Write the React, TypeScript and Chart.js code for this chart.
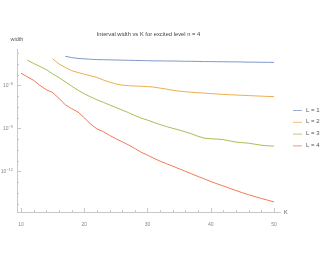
import React, { useEffect, useRef } from "react";
import { Chart, registerables } from "chart.js";

Chart.register(...registerables);

const TITLE = "Interval width vs K for excited level n = 4";
const K = [10, 11, 12, 13, 14, 15, 16, 17, 18, 19, 20, 21, 22, 23, 24, 25, 26, 27, 28, 29, 30,
  31, 32, 33, 34, 35, 36, 37, 38, 39, 40, 41, 42, 43, 44, 45, 46, 47, 48, 49, 50];
const X_TICKS = [10, 20, 30, 40, 50];
const Y_TICKS = [1e-6, 1e-9, 1e-12];
const SERIES_LABELS = ["L = 1", "L = 2", "L = 3", "L = 4"];
const COLORS = ["#6F8FC2", "#E8A63A", "#9AB944", "#F06A45"];

const widthL1 = [null, null, null, null, null, null, null,
  1.07e-4, 8.71e-5, 7.59e-5, 7.08e-5, 6.61e-5, 6.31e-5, 6.17e-5, 6.03e-5, 5.89e-5, 5.75e-5,
  5.62e-5, 5.50e-5, 5.37e-5, 5.25e-5, 5.13e-5, 5.13e-5, 5.01e-5, 5.01e-5, 4.90e-5, 4.79e-5,
  4.79e-5, 4.68e-5, 4.57e-5, 4.57e-5, 4.47e-5, 4.47e-5, 4.37e-5, 4.37e-5, 4.27e-5, 4.17e-5,
  4.17e-5, 4.07e-5, 4.07e-5, 3.98e-5];
const widthL2 = [null, null, null, null, null,
  7.24e-5, 3.16e-5, 1.78e-5, 1.07e-5, 7.94e-6, 6.03e-6, 4.68e-6, 3.63e-6, 2.40e-6, 1.70e-6,
  1.26e-6, 1.05e-6, 9.55e-7, 9.12e-7, 8.71e-7, 8.32e-7, 7.59e-7, 6.46e-7, 5.50e-7, 4.57e-7,
  3.98e-7, 3.63e-7, 3.31e-7, 3.09e-7, 2.88e-7, 2.69e-7, 2.51e-7, 2.34e-7, 2.24e-7, 2.14e-7,
  2.04e-7, 1.95e-7, 1.86e-7, 1.78e-7, 1.70e-7, 1.66e-7];
const widthL3 = [null,
  5.75e-5, 3.39e-5, 2.09e-5, 1.26e-5, 6.31e-6, 3.55e-6, 1.78e-6, 8.91e-7, 4.68e-7, 2.63e-7,
  1.58e-7, 1.0e-7, 6.61e-8, 4.37e-8, 2.88e-8, 1.91e-8, 1.26e-8, 7.94e-9, 5.25e-9, 3.80e-9,
  2.63e-9, 1.86e-9, 1.35e-9, 1.02e-9, 7.76e-10, 5.75e-10, 4.17e-10, 2.82e-10, 2.09e-10, 1.91e-10,
  1.82e-10, 1.66e-10, 1.35e-10, 1.12e-10, 1.02e-10, 9.33e-11, 7.94e-11, 6.76e-11, 6.17e-11, 5.89e-11];
const widthL4 = [
  7.08e-6, 3.98e-6, 2.24e-6, 1.0e-6, 5.01e-7, 3.16e-7, 1.26e-7, 4.47e-8, 2.40e-8, 1.41e-8,
  5.62e-9, 2.0e-9, 9.33e-10, 6.03e-10, 3.31e-10, 1.91e-10, 1.17e-10, 7.08e-11, 3.98e-11, 2.19e-11,
  1.38e-11, 8.32e-12, 5.25e-12, 3.47e-12, 2.34e-12, 1.55e-12, 1.02e-12, 6.76e-13, 4.47e-13, 3.02e-13,
  2.0e-13, 1.38e-13, 9.77e-14, 6.76e-14, 4.68e-14, 3.31e-14, 2.40e-14, 1.78e-14, 1.32e-14, 1.0e-14,
  7.59e-15];

const SERIES = [widthL1, widthL2, widthL3, widthL4];

const FONT = "'Liberation Sans', Arial, sans-serif";

const framePlugin = {
  id: "frame",
  afterDraw(chart: any) {
    const ctx = chart.ctx;
    const { left, right, top, bottom } = chart.chartArea;
    const xs = chart.scales.x;
    const ys = chart.scales.y;
    ctx.save();
    ctx.strokeStyle = "#c8c8c8";
    ctx.lineWidth = 1;
    ctx.beginPath();
    for (let v = 10; v <= 50; v += 2) {
      const px = Math.round(xs.getPixelForValue(v)) + 0.5;
      const len = v % 10 === 0 ? 4 : 2;
      ctx.moveTo(px, bottom);
      ctx.lineTo(px, bottom - len);
    }
    for (let e = -15; e <= -3; e += 0.75) {
      const v = Math.pow(10, e);
      if (v < ys.min || v > ys.max) continue;
      const py = Math.round(ys.getPixelForValue(v)) + 0.5;
      const major = Math.abs(e % 3) < 1e-9;
      const len = major ? 4 : 2;
      ctx.moveTo(left, py);
      ctx.lineTo(left + len, py);
    }
    ctx.stroke();

    // y tick labels: 10 with superscript exponent
    ctx.fillStyle = "#888";
    ctx.textBaseline = "middle";
    Y_TICKS.forEach((v) => {
      const py = ys.getPixelForValue(v);
      const exp = String(Math.round(Math.log10(v))).replace("-", "\u2212");
      ctx.font = `4px ${FONT}`;
      const ew = ctx.measureText(exp).width;
      const rx = left - 4;
      ctx.textAlign = "right";
      ctx.fillText(exp, rx, py - 2);
      ctx.font = `5px ${FONT}`;
      ctx.fillText("10", rx - ew, py + 0.5);
    });

    ctx.fillStyle = "#555";
    ctx.font = `5.5px ${FONT}`;
    ctx.textBaseline = "middle";
    ctx.textAlign = "center";
    ctx.fillText("width", left, top - 10);
    ctx.textAlign = "left";
    ctx.fillText("K", right + 4, bottom);

    const lx = 293;
    const ly0 = 110;
    const step = 11.8;
    ctx.font = `6px ${FONT}`;
    chart.data.datasets.forEach((ds: any, i: number) => {
      const y = ly0 + i * step;
      ctx.strokeStyle = ds.borderColor;
      ctx.lineWidth = 1;
      ctx.globalAlpha = 0.7;
      ctx.beginPath();
      ctx.moveTo(lx, y + 0.5);
      ctx.lineTo(lx + 9, y + 0.5);
      ctx.stroke();
      ctx.globalAlpha = 1;
      ctx.fillStyle = "#555";
      ctx.fillText(ds.label, lx + 13, y);
    });
    ctx.restore();
  },
};

export default function App() {
  const ref = useRef<HTMLCanvasElement>(null);
  useEffect(() => {
    if (!ref.current) return;
    const chart = new Chart(ref.current, {
      type: "line",
      data: {
        datasets: SERIES.map((arr, i) => ({
          label: SERIES_LABELS[i],
          data: K.map((k, j) => ({ x: k, y: arr[j] })).filter((p) => p.y !== null) as any,
          borderColor: COLORS[i],
          backgroundColor: COLORS[i],
          borderWidth: 0.9,
          pointRadius: 0,
          tension: 0,
          fill: false,
        })),
      },
      options: {
        animation: false,
        responsive: false,
        maintainAspectRatio: false,
        devicePixelRatio: 1,
        layout: { padding: { left: 0, right: 47, top: 0, bottom: 0 } },
        plugins: {
          legend: { display: false },
          tooltip: { enabled: false },
          title: {
            display: true,
            text: TITLE,
            fullSize: false,
            color: "#444",
            font: { family: FONT, size: 5.8, weight: "normal" },
            padding: { top: 31, bottom: 12 },
          },
        },
        scales: {
          x: {
            type: "linear",
            min: 9.37,
            max: 50.95,
            grid: { display: false },
            border: { display: true, color: "#c8c8c8", width: 1 },
            ticks: { color: "#888", font: { family: FONT, size: 5 }, padding: 2, maxRotation: 0 },
            afterBuildTicks: (s: any) => { s.ticks = X_TICKS.map((v) => ({ value: v })); },
            afterFit: (s: any) => { s.height = 41; },
          },
          y: {
            type: "logarithmic",
            min: 1.5e-15,
            max: 2.95e-4,
            grid: { display: false },
            border: { display: true, color: "#c8c8c8", width: 1 },
            ticks: { display: false },
            afterBuildTicks: (s: any) => { s.ticks = Y_TICKS.map((v) => ({ value: v })); },
            afterFit: (s: any) => { s.width = 17; },
          },
        },
      } as any,
      plugins: [framePlugin],
    });
    return () => chart.destroy();
  }, []);
  return (
    <div style={{ position: "fixed", left: 0, top: 0, width: 327, height: 253, background: "#fff" }}>
      <canvas ref={ref} width={327} height={253} style={{ width: 327, height: 253 }} />
    </div>
  );
}
